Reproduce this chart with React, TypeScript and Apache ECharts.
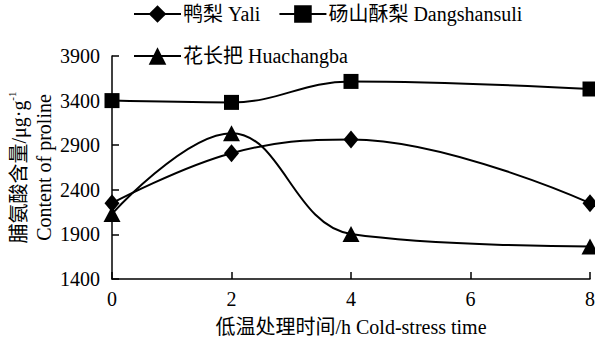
import React, { useEffect, useRef } from "react";
import * as echarts from "echarts";

const hours = [0, 2, 4, 8];
const yali = [2250, 2810, 2965, 2250];
const dangshansuli = [3400, 3380, 3615, 3530];
const huachangba = [2130, 3035, 1905, 1765];
const seriesNames = ["鸭梨 Yali", "砀山酥梨 Dangshansuli", "花长把 Huachangba"];
const xTicks = [0, 2, 4, 6, 8];
const yTicks = [1400, 1900, 2400, 2900, 3400, 3900];

const FONT = '"Liberation Serif", "Times New Roman", "Noto Sans CJK SC", serif';

export default function App() {
  const ref = useRef<HTMLDivElement>(null);
  useEffect(() => {
    if (!ref.current) return;
    const chart = echarts.init(ref.current, null, { renderer: "svg" });
    const mk = (vals: number[]) => hours.map((h, i) => [h, vals[i]]);
    const lineStyle = { color: "#000", width: 2 };
    const legendText = { fontFamily: FONT, fontSize: 20, color: "#000", padding: [0, 0, 0, -3] };
    chart.setOption({
      animation: false,
      backgroundColor: "#fff",
      textStyle: { fontFamily: FONT, color: "#000" },
      grid: { left: 112, right: 5, top: 56, bottom: 59, outerBoundsMode: "none", containLabel: false },
      legend: [
        {
          data: [seriesNames[0], seriesNames[1]],
          left: 128,
          top: -1,
          itemWidth: 47,
          itemHeight: 22,
          itemGap: 18,
          textStyle: legendText,
        },
        {
          data: [seriesNames[2]],
          left: 128,
          top: 41,
          itemWidth: 47,
          itemHeight: 22,
          textStyle: legendText,
        },
      ],
      xAxis: {
        type: "value",
        min: xTicks[0],
        max: xTicks[xTicks.length - 1],
        interval: 2,
        name: "低温处理时间/h Cold-stress time",
        nameLocation: "middle",
        nameGap: 38,
        nameMoveOverlap: false,
        nameTextStyle: { fontFamily: FONT, fontSize: 20, color: "#000" },
        axisLine: { lineStyle: { color: "#000", width: 1.5 } },
        axisTick: { inside: true, length: 7, lineStyle: { color: "#000", width: 1.5 } },
        axisLabel: { fontFamily: FONT, fontSize: 20, color: "#000", margin: 10 },
        splitLine: { show: false },
      },
      yAxis: {
        type: "value",
        min: yTicks[0],
        max: yTicks[yTicks.length - 1],
        interval: 500,
        name: "{n|脯氨酸含量/μg·g}{sup|-1}\n{n|Content of proline}",
        nameLocation: "middle",
        nameRotate: 90,
        nameGap: 56,
        nameMoveOverlap: false,
        nameTextStyle: {
          fontFamily: FONT,
          fontSize: 20,
          color: "#000",
          lineHeight: 25,
          rich: {
            n: { fontFamily: FONT, fontSize: 20, lineHeight: 25, color: "#000" },
            sup: { fontFamily: FONT, fontSize: 11, verticalAlign: "top", lineHeight: 25, color: "#000" },
          },
        },
        axisLine: { show: true, lineStyle: { color: "#000", width: 1.5 } },
        axisTick: { show: true, inside: true, length: 7, lineStyle: { color: "#000", width: 1.5 } },
        axisLabel: {
          fontFamily: FONT,
          fontSize: 20,
          color: "#000",
          margin: 12,
          formatter: (v: number) => String(v),
        },
        splitLine: { show: false },
      },
      series: [
        {
          name: seriesNames[0],
          type: "line",
          smooth: 0.4,
          data: mk(yali),
          symbol: "diamond",
          symbolSize: [15, 18],
          lineStyle,
          itemStyle: { color: "#000" },
        },
        {
          name: seriesNames[1],
          type: "line",
          smooth: 0.4,
          data: mk(dangshansuli),
          symbol: "rect",
          symbolSize: 15,
          lineStyle,
          itemStyle: { color: "#000" },
        },
        {
          name: seriesNames[2],
          type: "line",
          smooth: 0.4,
          data: mk(huachangba),
          symbol: "triangle",
          symbolSize: [17, 16],
          lineStyle,
          itemStyle: { color: "#000" },
        },
      ],
    });
    return () => chart.dispose();
  }, []);
  return <div ref={ref} style={{ width: 595, height: 338, position: "fixed", left: 0, top: 0 }} />;
}
